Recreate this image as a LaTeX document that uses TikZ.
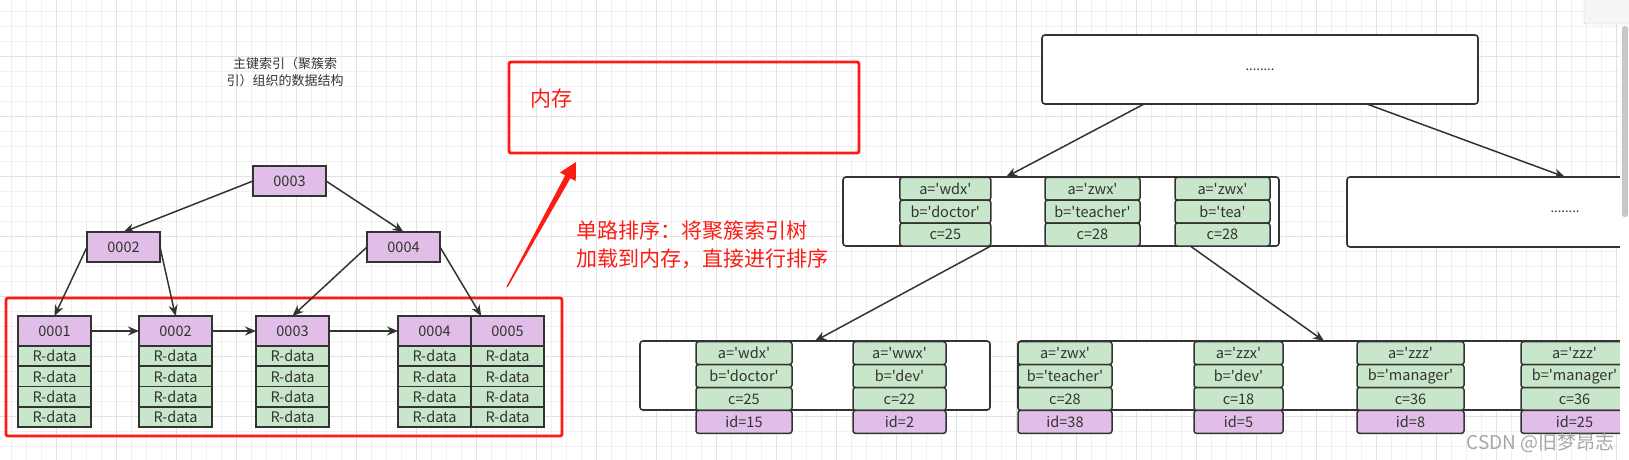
\documentclass[tikz,border=0pt]{standalone}
\usepackage{fontspec}
\newfontfamily\drawfont{Noto Sans CJK SC}
\usetikzlibrary{positioning, calc, arrows.meta}
\definecolor{keypurple}{RGB}{225,190,231}
\definecolor{rowgreen}{RGB}{200,230,201}
\definecolor{edgegray}{RGB}{51,51,51}
\definecolor{textgray}{RGB}{51,51,51}
\definecolor{memred}{RGB}{252,28,20}
\definecolor{gridminor}{RGB}{240,240,240}
\definecolor{gridmajor}{RGB}{226,226,226}

\begin{document}
\begin{tikzpicture}[x=1pt, y=-1pt,
                keybox/.style={draw=edgegray, line width=1.8pt, fill=keypurple, minimum width=73pt,
                        minimum height=30pt, inner sep=0pt, outer sep=0pt, text=textgray,
                        font=\drawfont\fontsize{14.5}{17}\selectfont},
                rowbox/.style={keybox, fill=rowgreen, minimum height=20.25pt},
                cell/.style={draw=edgegray, line width=1.5pt, rounded corners=2.5pt, fill=rowgreen,
                        minimum height=22.9pt, inner sep=0pt, outer sep=0pt, text=textgray,
                        font=\drawfont\fontsize{14.5}{17}\selectfont},
                idcell/.style={cell, fill=keypurple},
                page/.style={draw=edgegray, line width=1.6pt, rounded corners=3pt, fill=white,
                        inner sep=0pt, outer sep=0pt, anchor=north west, text=textgray,
                        font=\drawfont\fontsize{13}{15}\selectfont},
                arr/.style={-{Stealth[length=11pt, width=9pt]}, line width=1.5pt, draw=edgegray},
                memline/.style={draw=memred, line width=2.8pt, rounded corners=2pt,
                        inner sep=0pt, outer sep=0pt, anchor=north west},
                redtext/.style={text=memred, inner sep=0pt, font=\drawfont\fontsize{21}{28}\selectfont}]
                \clip (0,0) rectangle (1629,460);
                % grid
                \foreach \g in {0,...,107} \draw[gridminor, line width=1pt] (11.7+15*\g,0) -- ++(0,460);
                \foreach \g in {0,...,29} \draw[gridminor, line width=1pt] (0,11.7+15*\g) -- ++(1629,0);
                \foreach \g in {0,...,26} \draw[gridmajor, line width=1pt] (56.7+60*\g,0) -- ++(0,460);
                \foreach \g in {0,...,6} \draw[gridmajor, line width=1pt] (0,56.7+60*\g) -- ++(1629,0);

                % Clustered index tree
                \node[text=textgray, align=center, font=\drawfont\fontsize{13}{17}\selectfont] (title)
                    at (285,72) {主键索引（聚簇索\\引）组织的数据结构};
                \node[memline, minimum width=556pt, minimum height=138pt] (leafmem) at (6,298) {};
                \node[keybox] (k3) at (289.5,181) {0003};
                \node[keybox] (k2) at (123.5,247) {0002};
                \node[keybox] (k4) at (403.5,247) {0004};
                \foreach \n/\x in {1/54.5, 2/175.5, 3/292.5, 4/434.5, 5/507.5} {
                    \node[keybox] (l\n) at (\x,331) {000\n};
                    \node[rowbox, below=0pt of l\n] (l\n-1) {R-data};
                    \foreach \r [count=\p from 1] in {2,3,4}
                        \node[rowbox, below=0pt of l\n-\p] (l\n-\r) {R-data};
                }
                \draw[arr] (k3.west) -- (k2.north);
                \draw[arr] (k3.east) -- (k4.north);
                \draw[arr] (k2.west) -- (l1.north);
                \draw[arr] (k2.east) -- (l2.north);
                \draw[arr] (k4.west) -- (l3.north);
                \draw[arr] (k4.east) -- ($(l5.north west)!0.14!(l5.north east)$);
                \draw[arr] (l1.east) -- (l2.west);
                \draw[arr] (l2.east) -- (l3.west);
                \draw[arr] (l3.east) -- (l4.west);

                % Memory
                \node[memline, minimum width=350pt, minimum height=91pt] (mem) at (509,62) {};
                \node[redtext, anchor=west] (memtxt) at (530,99) {内存};
                \coordinate (rtail) at (507,287);
                \coordinate (rtip) at (576,162);
                \fill[memred] (rtail) ++(-0.6,-0.3) -- (565.2,175.4) -- (559.9,172.5) -- (rtip)
                    -- (575.7,181.2) -- (570.4,178.3) -- (507.6,287.3) -- cycle;
                \node[redtext, anchor=north west, align=left] (sortnote) at (576,221)
                    {单路排序：将聚簇索引树\\加载到内存，直接进行排序};

                % Secondary index tree
                \node[page, minimum width=436pt, minimum height=69pt] (root) at (1042,35) {........};
                \node[page, minimum width=436pt, minimum height=69pt] (midA) at (843,177) {};
                \node[page, minimum width=436pt, minimum height=70pt] (midB) at (1347,177) {........};
                \foreach \col/\x/\w/\av/\bv/\cv in {1/945.3/91/wdx/doctor/25, 2/1092.5/95/zwx/teacher/28,
                        3/1222.5/95/zwx/tea/28} {
                    \node[cell, minimum width=\w pt] (m\col-a) at (\x,188.75) {a='\av'};
                    \node[cell, minimum width=\w pt, below=0pt of m\col-a] (m\col-b) {b='\bv'};
                    \node[cell, minimum width=\w pt, below=0pt of m\col-b] (m\col-c) {c=\cv};
                }
                \node[page, minimum width=350pt, minimum height=69pt] (lowA) at (640,341) {};
                \node[page, minimum width=612pt, minimum height=69pt] (lowB) at (1018,341) {};
                \foreach \col/\x/\w/\av/\bv/\cv/\iv in {1/744/96/wdx/doctor/25/15, 2/899.5/93/wwx/dev/22/2,
                        3/1065/94/zwx/teacher/28/38, 4/1238.5/89/zzx/dev/18/5,
                        5/1410.5/107/zzz/manager/36/8, 6/1574.5/107/zzz/manager/36/25} {
                    \node[cell, minimum width=\w pt] (b\col-a) at (\x,353.15) {a='\av'};
                    \node[cell, minimum width=\w pt, below=0pt of b\col-a] (b\col-b) {b='\bv'};
                    \node[cell, minimum width=\w pt, below=0pt of b\col-b] (b\col-c) {c=\cv};
                    \node[idcell, minimum width=\w pt, below=0pt of b\col-c] (b\col-id) {id=\iv};
                }
                \draw[arr] ($(root.south west)!0.234!(root.south east)$) -- ($(midA.north west)!0.374!(midA.north east)$);
                \draw[arr] ($(root.south west)!0.745!(root.south east)$) -- (midB.north);
                \draw[arr] (m1-c.south east) -- (lowA.north);
                \draw[arr] ($(m3-c.south west)!0.16!(m3-c.south east)$) -- (lowB.north);

                \node[text=black!35, anchor=east, inner sep=0pt, font=\drawfont\fontsize{19}{19}\selectfont]
                    (mark) at (1615,443) {CSDN @旧梦昂志};

                % editor frame
                \fill[white] (1620,0) rectangle (1629,460);
                \filldraw[fill=black!4, draw=black!22, rounded corners=2pt] (1584,-4) rectangle (1634,24);
                \fill[black!22, rounded corners=2.5pt] (1622,26) rectangle (1628,217);
            \end{tikzpicture}
\end{document}
